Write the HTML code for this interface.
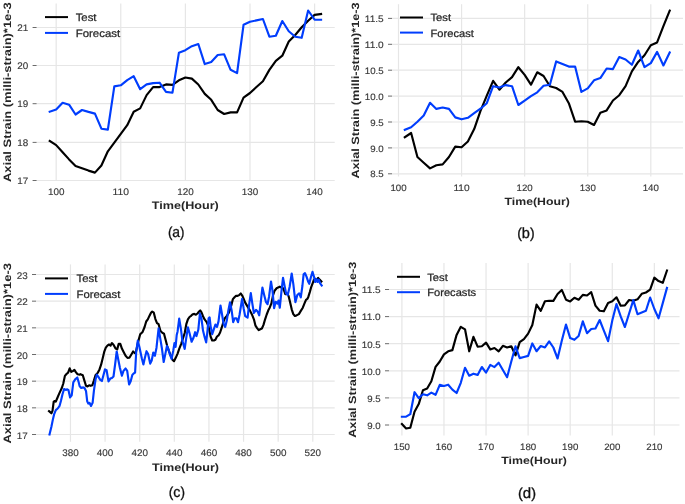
<!DOCTYPE html>
<html><head><meta charset="utf-8"><style>
html,body{margin:0;padding:0;background:#fff;}
body{width:685px;height:504px;overflow:hidden;}
svg{display:block;font-family:"Liberation Sans", sans-serif;text-rendering:geometricPrecision;will-change:transform;}
</style></head><body>
<svg width="685" height="504" viewBox="0 0 685 504">
<rect width="685" height="504" fill="#fff"/>
<line x1="36.6" y1="180.5" x2="334.7" y2="180.5" stroke="#e6e6e6" stroke-width="1.2"/>
<line x1="32.6" y1="180.5" x2="36.6" y2="180.5" stroke="#5a5a5a" stroke-width="0.9"/>
<text x="28.3" y="184.2" text-anchor="end" font-size="9.5" fill="#3a3a3a" stroke="#3a3a3a" stroke-width="0.15" textLength="10.99" lengthAdjust="spacingAndGlyphs">17</text>
<line x1="36.6" y1="142.4" x2="334.7" y2="142.4" stroke="#e6e6e6" stroke-width="1.2"/>
<line x1="32.6" y1="142.4" x2="36.6" y2="142.4" stroke="#5a5a5a" stroke-width="0.9"/>
<text x="28.3" y="146.1" text-anchor="end" font-size="9.5" fill="#3a3a3a" stroke="#3a3a3a" stroke-width="0.15" textLength="10.99" lengthAdjust="spacingAndGlyphs">18</text>
<line x1="36.6" y1="103.7" x2="334.7" y2="103.7" stroke="#e6e6e6" stroke-width="1.2"/>
<line x1="32.6" y1="103.7" x2="36.6" y2="103.7" stroke="#5a5a5a" stroke-width="0.9"/>
<text x="28.3" y="107.4" text-anchor="end" font-size="9.5" fill="#3a3a3a" stroke="#3a3a3a" stroke-width="0.15" textLength="10.99" lengthAdjust="spacingAndGlyphs">19</text>
<line x1="36.6" y1="65.5" x2="334.7" y2="65.5" stroke="#e6e6e6" stroke-width="1.2"/>
<line x1="32.6" y1="65.5" x2="36.6" y2="65.5" stroke="#5a5a5a" stroke-width="0.9"/>
<text x="28.3" y="69.2" text-anchor="end" font-size="9.5" fill="#3a3a3a" stroke="#3a3a3a" stroke-width="0.15" textLength="10.99" lengthAdjust="spacingAndGlyphs">20</text>
<line x1="36.6" y1="27.5" x2="334.7" y2="27.5" stroke="#e6e6e6" stroke-width="1.2"/>
<line x1="32.6" y1="27.5" x2="36.6" y2="27.5" stroke="#5a5a5a" stroke-width="0.9"/>
<text x="28.3" y="31.2" text-anchor="end" font-size="9.5" fill="#3a3a3a" stroke="#3a3a3a" stroke-width="0.15" textLength="10.99" lengthAdjust="spacingAndGlyphs">21</text>
<line x1="56.17" y1="3.5" x2="56.17" y2="180.4" stroke="#e6e6e6" stroke-width="1.2"/>
<text x="56.17" y="195.2" text-anchor="middle" font-size="9.5" fill="#3a3a3a" stroke="#3a3a3a" stroke-width="0.15" textLength="16.49" lengthAdjust="spacingAndGlyphs">100</text>
<line x1="120.78" y1="3.5" x2="120.78" y2="180.4" stroke="#e6e6e6" stroke-width="1.2"/>
<text x="120.78" y="195.2" text-anchor="middle" font-size="9.5" fill="#3a3a3a" stroke="#3a3a3a" stroke-width="0.15" textLength="16.49" lengthAdjust="spacingAndGlyphs">110</text>
<line x1="185.39" y1="3.5" x2="185.39" y2="180.4" stroke="#e6e6e6" stroke-width="1.2"/>
<text x="185.39" y="195.2" text-anchor="middle" font-size="9.5" fill="#3a3a3a" stroke="#3a3a3a" stroke-width="0.15" textLength="16.49" lengthAdjust="spacingAndGlyphs">120</text>
<line x1="250" y1="3.5" x2="250" y2="180.4" stroke="#e6e6e6" stroke-width="1.2"/>
<text x="250" y="195.2" text-anchor="middle" font-size="9.5" fill="#3a3a3a" stroke="#3a3a3a" stroke-width="0.15" textLength="16.49" lengthAdjust="spacingAndGlyphs">130</text>
<line x1="314.61" y1="3.5" x2="314.61" y2="180.4" stroke="#e6e6e6" stroke-width="1.2"/>
<text x="314.61" y="195.2" text-anchor="middle" font-size="9.5" fill="#3a3a3a" stroke="#3a3a3a" stroke-width="0.15" textLength="16.49" lengthAdjust="spacingAndGlyphs">140</text>
<polyline points="49.71,140.9 56.17,145.1 62.63,152.3 69.09,159.4 75.55,166 82.01,168.3 88.47,170.6 94.94,172.6 101.4,165.5 107.86,151.3 114.32,142.7 120.78,133.9 127.24,125.2 133.7,111.7 140.16,108.4 146.62,95.1 153.09,87.1 159.55,87.1 166.01,84.4 172.47,84.9 178.93,80.3 185.39,77.5 191.85,78.6 198.31,84.5 204.77,93.9 211.23,99.8 217.69,110 224.16,114 230.62,112.4 237.08,112.4 243.54,97.6 250,93 256.46,87 262.92,81.3 269.38,69.9 275.84,60.8 282.31,55.7 288.77,41.5 295.23,35 301.69,27.3 308.15,20.8 314.61,14.9 321.07,14" fill="none" stroke="#000000" stroke-width="2.15" stroke-linejoin="round" stroke-linecap="square"/>
<polyline points="49.71,111.7 56.17,109.6 62.63,102.8 69.09,104.7 75.55,114.5 82.01,110 88.47,111.9 94.94,113.6 101.4,128.7 107.86,129.6 114.32,86.4 120.78,85.3 127.24,80.1 133.7,76.2 140.16,89.2 146.62,84.4 153.09,83.1 159.55,82.7 166.01,91.9 172.47,92.7 178.93,52.7 185.39,50.2 191.85,46.2 198.31,44 204.77,64.1 211.23,62 217.69,55 224.16,54.3 230.62,69.8 237.08,73.1 243.54,24.8 250,21.8 256.46,20.4 262.92,19 269.38,36.7 275.84,35.8 282.31,21 288.77,31.3 295.23,36.7 301.69,37.8 308.15,10.5 314.61,19.7 321.07,19.7" fill="none" stroke="#003dfd" stroke-width="2.15" stroke-linejoin="round" stroke-linecap="square"/>
<line x1="45" y1="17.1" x2="68" y2="17.1" stroke="#000000" stroke-width="2"/>
<line x1="45" y1="32.9" x2="68" y2="32.9" stroke="#003dfd" stroke-width="2"/>
<text x="75.7" y="20.9" font-size="10.75" fill="#262626" stroke="#262626" stroke-width="0.25" textLength="20.8" lengthAdjust="spacingAndGlyphs">Test</text>
<text x="75.7" y="36.8" font-size="10.75" fill="#262626" stroke="#262626" stroke-width="0.25" textLength="44.5" lengthAdjust="spacingAndGlyphs">Forecast</text>
<text x="185.3" y="209.2" text-anchor="middle" font-size="10.75" font-weight="bold" fill="#262626" textLength="67" lengthAdjust="spacingAndGlyphs">Time(Hour)</text>
<text transform="translate(10.7,182) rotate(-90)" x="0" y="0" font-size="10.75" font-weight="bold" fill="#262626" textLength="179.8" lengthAdjust="spacingAndGlyphs">Axial Strain (milli-strain)*1e-3</text>
<text x="176.2" y="236.6" text-anchor="middle" font-size="14.4" fill="#111" stroke="#111" stroke-width="0.3" textLength="16.6" lengthAdjust="spacingAndGlyphs">(<tspan font-size="15">a</tspan>)</text>
<line x1="392" y1="173.8" x2="683" y2="173.8" stroke="#e6e6e6" stroke-width="1.2"/>
<line x1="388" y1="173.8" x2="392" y2="173.8" stroke="#5a5a5a" stroke-width="0.9"/>
<text x="383.7" y="177.4" text-anchor="end" font-size="9.31" fill="#3a3a3a" stroke="#3a3a3a" stroke-width="0.15" textLength="13.46" lengthAdjust="spacingAndGlyphs">8.5</text>
<line x1="392" y1="147.9" x2="683" y2="147.9" stroke="#e6e6e6" stroke-width="1.2"/>
<line x1="388" y1="147.9" x2="392" y2="147.9" stroke="#5a5a5a" stroke-width="0.9"/>
<text x="383.7" y="151.5" text-anchor="end" font-size="9.31" fill="#3a3a3a" stroke="#3a3a3a" stroke-width="0.15" textLength="13.46" lengthAdjust="spacingAndGlyphs">9.0</text>
<line x1="392" y1="122" x2="683" y2="122" stroke="#e6e6e6" stroke-width="1.2"/>
<line x1="388" y1="122" x2="392" y2="122" stroke="#5a5a5a" stroke-width="0.9"/>
<text x="383.7" y="125.6" text-anchor="end" font-size="9.31" fill="#3a3a3a" stroke="#3a3a3a" stroke-width="0.15" textLength="13.46" lengthAdjust="spacingAndGlyphs">9.5</text>
<line x1="392" y1="96.1" x2="683" y2="96.1" stroke="#e6e6e6" stroke-width="1.2"/>
<line x1="388" y1="96.1" x2="392" y2="96.1" stroke="#5a5a5a" stroke-width="0.9"/>
<text x="383.7" y="99.7" text-anchor="end" font-size="9.31" fill="#3a3a3a" stroke="#3a3a3a" stroke-width="0.15" textLength="18.85" lengthAdjust="spacingAndGlyphs">10.0</text>
<line x1="392" y1="70.2" x2="683" y2="70.2" stroke="#e6e6e6" stroke-width="1.2"/>
<line x1="388" y1="70.2" x2="392" y2="70.2" stroke="#5a5a5a" stroke-width="0.9"/>
<text x="383.7" y="73.8" text-anchor="end" font-size="9.31" fill="#3a3a3a" stroke="#3a3a3a" stroke-width="0.15" textLength="18.85" lengthAdjust="spacingAndGlyphs">10.5</text>
<line x1="392" y1="44.3" x2="683" y2="44.3" stroke="#e6e6e6" stroke-width="1.2"/>
<line x1="388" y1="44.3" x2="392" y2="44.3" stroke="#5a5a5a" stroke-width="0.9"/>
<text x="383.7" y="47.9" text-anchor="end" font-size="9.31" fill="#3a3a3a" stroke="#3a3a3a" stroke-width="0.15" textLength="18.85" lengthAdjust="spacingAndGlyphs">11.0</text>
<line x1="392" y1="18.4" x2="683" y2="18.4" stroke="#e6e6e6" stroke-width="1.2"/>
<line x1="388" y1="18.4" x2="392" y2="18.4" stroke="#5a5a5a" stroke-width="0.9"/>
<text x="383.7" y="22" text-anchor="end" font-size="9.31" fill="#3a3a3a" stroke="#3a3a3a" stroke-width="0.15" textLength="18.85" lengthAdjust="spacingAndGlyphs">11.5</text>
<line x1="398.5" y1="4.2" x2="398.5" y2="176.5" stroke="#e6e6e6" stroke-width="1.2"/>
<text x="398.5" y="190.9" text-anchor="middle" font-size="9.31" fill="#3a3a3a" stroke="#3a3a3a" stroke-width="0.15" textLength="16.16" lengthAdjust="spacingAndGlyphs">100</text>
<line x1="461.57" y1="4.2" x2="461.57" y2="176.5" stroke="#e6e6e6" stroke-width="1.2"/>
<text x="461.57" y="190.9" text-anchor="middle" font-size="9.31" fill="#3a3a3a" stroke="#3a3a3a" stroke-width="0.15" textLength="16.16" lengthAdjust="spacingAndGlyphs">110</text>
<line x1="524.65" y1="4.2" x2="524.65" y2="176.5" stroke="#e6e6e6" stroke-width="1.2"/>
<text x="524.65" y="190.9" text-anchor="middle" font-size="9.31" fill="#3a3a3a" stroke="#3a3a3a" stroke-width="0.15" textLength="16.16" lengthAdjust="spacingAndGlyphs">120</text>
<line x1="587.73" y1="4.2" x2="587.73" y2="176.5" stroke="#e6e6e6" stroke-width="1.2"/>
<text x="587.73" y="190.9" text-anchor="middle" font-size="9.31" fill="#3a3a3a" stroke="#3a3a3a" stroke-width="0.15" textLength="16.16" lengthAdjust="spacingAndGlyphs">130</text>
<line x1="650.8" y1="4.2" x2="650.8" y2="176.5" stroke="#e6e6e6" stroke-width="1.2"/>
<text x="650.8" y="190.9" text-anchor="middle" font-size="9.31" fill="#3a3a3a" stroke="#3a3a3a" stroke-width="0.15" textLength="16.16" lengthAdjust="spacingAndGlyphs">140</text>
<polyline points="404.81,137.2 411.12,133 417.42,157 423.73,162.7 430.04,168.4 436.35,165.2 442.65,164.4 448.96,157 455.27,146.6 461.57,147.3 467.88,141.5 474.19,129.1 480.5,110.8 486.81,95.6 493.11,80.8 499.42,89.7 505.73,82.5 512.03,77.1 518.34,67.2 524.65,74.9 530.96,84.7 537.26,72.3 543.57,76 549.88,86.2 556.19,88 562.5,91.9 568.8,103.2 575.11,121.7 581.42,121.3 587.73,121.7 594.03,125 600.34,112.8 606.65,110.4 612.96,100.5 619.26,95.2 625.57,86.2 631.88,71.4 638.18,61.9 644.49,55.2 650.8,45.2 657.11,42.4 663.41,26.2 669.72,10.7" fill="none" stroke="#000000" stroke-width="2.15" stroke-linejoin="round" stroke-linecap="square"/>
<polyline points="404.81,129.8 411.12,127.3 417.42,121.8 423.73,115.6 430.04,102.8 436.35,108.9 442.65,107.5 448.96,108.9 455.27,117.4 461.57,119.3 467.88,117.8 474.19,113.2 480.5,108.7 486.81,103.2 493.11,86.2 499.42,87.5 505.73,85.1 512.03,86.2 518.34,105 524.65,100.6 530.96,96.2 537.26,92.3 543.57,85.8 549.88,84.7 556.19,61.4 562.5,64 568.8,66.6 575.11,66.6 581.42,91.9 587.73,88.4 594.03,80.3 600.34,78.1 606.65,68.5 612.96,69.1 619.26,57.1 625.57,59.5 631.88,64.8 638.18,50.5 644.49,67.1 650.8,63.1 657.11,51.9 663.41,65.5 669.72,52.4" fill="none" stroke="#003dfd" stroke-width="2.15" stroke-linejoin="round" stroke-linecap="square"/>
<line x1="400" y1="17.5" x2="423" y2="17.5" stroke="#000000" stroke-width="2"/>
<line x1="400" y1="32.6" x2="423" y2="32.6" stroke="#003dfd" stroke-width="2"/>
<text x="430.5" y="21" font-size="10.54" fill="#262626" stroke="#262626" stroke-width="0.25" textLength="20.6" lengthAdjust="spacingAndGlyphs">Test</text>
<text x="430.5" y="36.5" font-size="10.54" fill="#262626" stroke="#262626" stroke-width="0.25" textLength="43.3" lengthAdjust="spacingAndGlyphs">Forecast</text>
<text x="537.2" y="205.4" text-anchor="middle" font-size="10.54" font-weight="bold" fill="#262626" textLength="65.3" lengthAdjust="spacingAndGlyphs">Time(Hour)</text>
<text transform="translate(358.5,178.6) rotate(-90)" x="0" y="0" font-size="10.54" font-weight="bold" fill="#262626" textLength="176.2" lengthAdjust="spacingAndGlyphs">Axial Strain (milli-strain)*1e-3</text>
<text x="525.9" y="237.6" text-anchor="middle" font-size="14.4" fill="#111" stroke="#111" stroke-width="0.3" textLength="17.4" lengthAdjust="spacingAndGlyphs">(<tspan font-size="15">b</tspan>)</text>
<line x1="36" y1="434.5" x2="334.7" y2="434.5" stroke="#e6e6e6" stroke-width="1.2"/>
<line x1="32" y1="434.5" x2="36" y2="434.5" stroke="#5a5a5a" stroke-width="0.9"/>
<text x="27.7" y="438.5" text-anchor="end" font-size="9.5" fill="#3a3a3a" stroke="#3a3a3a" stroke-width="0.15" textLength="10.99" lengthAdjust="spacingAndGlyphs">17</text>
<line x1="36" y1="407.83" x2="334.7" y2="407.83" stroke="#e6e6e6" stroke-width="1.2"/>
<line x1="32" y1="407.83" x2="36" y2="407.83" stroke="#5a5a5a" stroke-width="0.9"/>
<text x="27.7" y="411.83" text-anchor="end" font-size="9.5" fill="#3a3a3a" stroke="#3a3a3a" stroke-width="0.15" textLength="10.99" lengthAdjust="spacingAndGlyphs">18</text>
<line x1="36" y1="381.17" x2="334.7" y2="381.17" stroke="#e6e6e6" stroke-width="1.2"/>
<line x1="32" y1="381.17" x2="36" y2="381.17" stroke="#5a5a5a" stroke-width="0.9"/>
<text x="27.7" y="385.17" text-anchor="end" font-size="9.5" fill="#3a3a3a" stroke="#3a3a3a" stroke-width="0.15" textLength="10.99" lengthAdjust="spacingAndGlyphs">19</text>
<line x1="36" y1="354.5" x2="334.7" y2="354.5" stroke="#e6e6e6" stroke-width="1.2"/>
<line x1="32" y1="354.5" x2="36" y2="354.5" stroke="#5a5a5a" stroke-width="0.9"/>
<text x="27.7" y="358.5" text-anchor="end" font-size="9.5" fill="#3a3a3a" stroke="#3a3a3a" stroke-width="0.15" textLength="10.99" lengthAdjust="spacingAndGlyphs">20</text>
<line x1="36" y1="327.83" x2="334.7" y2="327.83" stroke="#e6e6e6" stroke-width="1.2"/>
<line x1="32" y1="327.83" x2="36" y2="327.83" stroke="#5a5a5a" stroke-width="0.9"/>
<text x="27.7" y="331.83" text-anchor="end" font-size="9.5" fill="#3a3a3a" stroke="#3a3a3a" stroke-width="0.15" textLength="10.99" lengthAdjust="spacingAndGlyphs">21</text>
<line x1="36" y1="301.16" x2="334.7" y2="301.16" stroke="#e6e6e6" stroke-width="1.2"/>
<line x1="32" y1="301.16" x2="36" y2="301.16" stroke="#5a5a5a" stroke-width="0.9"/>
<text x="27.7" y="305.16" text-anchor="end" font-size="9.5" fill="#3a3a3a" stroke="#3a3a3a" stroke-width="0.15" textLength="10.99" lengthAdjust="spacingAndGlyphs">22</text>
<line x1="36" y1="274.5" x2="334.7" y2="274.5" stroke="#e6e6e6" stroke-width="1.2"/>
<line x1="32" y1="274.5" x2="36" y2="274.5" stroke="#5a5a5a" stroke-width="0.9"/>
<text x="27.7" y="278.5" text-anchor="end" font-size="9.5" fill="#3a3a3a" stroke="#3a3a3a" stroke-width="0.15" textLength="10.99" lengthAdjust="spacingAndGlyphs">23</text>
<line x1="70.47" y1="264.4" x2="70.47" y2="441.8" stroke="#e6e6e6" stroke-width="1.2"/>
<text x="70.47" y="456.3" text-anchor="middle" font-size="9.5" fill="#3a3a3a" stroke="#3a3a3a" stroke-width="0.15" textLength="16.49" lengthAdjust="spacingAndGlyphs">380</text>
<line x1="105.09" y1="264.4" x2="105.09" y2="441.8" stroke="#e6e6e6" stroke-width="1.2"/>
<text x="105.09" y="456.3" text-anchor="middle" font-size="9.5" fill="#3a3a3a" stroke="#3a3a3a" stroke-width="0.15" textLength="16.49" lengthAdjust="spacingAndGlyphs">400</text>
<line x1="139.71" y1="264.4" x2="139.71" y2="441.8" stroke="#e6e6e6" stroke-width="1.2"/>
<text x="139.71" y="456.3" text-anchor="middle" font-size="9.5" fill="#3a3a3a" stroke="#3a3a3a" stroke-width="0.15" textLength="16.49" lengthAdjust="spacingAndGlyphs">420</text>
<line x1="174.32" y1="264.4" x2="174.32" y2="441.8" stroke="#e6e6e6" stroke-width="1.2"/>
<text x="174.32" y="456.3" text-anchor="middle" font-size="9.5" fill="#3a3a3a" stroke="#3a3a3a" stroke-width="0.15" textLength="16.49" lengthAdjust="spacingAndGlyphs">440</text>
<line x1="208.94" y1="264.4" x2="208.94" y2="441.8" stroke="#e6e6e6" stroke-width="1.2"/>
<text x="208.94" y="456.3" text-anchor="middle" font-size="9.5" fill="#3a3a3a" stroke="#3a3a3a" stroke-width="0.15" textLength="16.49" lengthAdjust="spacingAndGlyphs">460</text>
<line x1="243.56" y1="264.4" x2="243.56" y2="441.8" stroke="#e6e6e6" stroke-width="1.2"/>
<text x="243.56" y="456.3" text-anchor="middle" font-size="9.5" fill="#3a3a3a" stroke="#3a3a3a" stroke-width="0.15" textLength="16.49" lengthAdjust="spacingAndGlyphs">480</text>
<line x1="278.18" y1="264.4" x2="278.18" y2="441.8" stroke="#e6e6e6" stroke-width="1.2"/>
<text x="278.18" y="456.3" text-anchor="middle" font-size="9.5" fill="#3a3a3a" stroke="#3a3a3a" stroke-width="0.15" textLength="16.49" lengthAdjust="spacingAndGlyphs">500</text>
<line x1="312.8" y1="264.4" x2="312.8" y2="441.8" stroke="#e6e6e6" stroke-width="1.2"/>
<text x="312.8" y="456.3" text-anchor="middle" font-size="9.5" fill="#3a3a3a" stroke="#3a3a3a" stroke-width="0.15" textLength="16.49" lengthAdjust="spacingAndGlyphs">520</text>
<polyline points="49,411.2 50.2,412.2 51.4,413.3 52.5,410.9 53.7,401.7 54.9,401 55.8,401.7 56.9,399 59.3,393.4 61.7,388.3 63.3,383.5 64.9,375.9 66.5,374 68.1,372.7 69.7,368.3 71.2,371.9 72.8,371.1 74.4,369.9 76,372.4 77.6,374.3 79.7,374.6 80.4,374.2 82.8,375.3 84.4,380.6 86,385.8 87.5,386.5 89.1,385.3 90.7,385.8 92.3,385.3 93.9,380.6 95.5,375.3 97.9,372.6 99.5,369.4 101.1,364.7 102.7,358.3 104.2,351.9 105.8,347.6 107.4,345.6 109,344.5 110.6,345.6 111.9,343.1 113.5,344.7 115.6,348.6 117.2,349.4 118.7,343.9 120.3,343.9 121.9,348.6 123.5,351.8 125.6,355.8 127.5,357.9 129.4,357.7 131.5,354.2 133.1,351.5 134.7,353.1 135.8,352.6 137.8,343.1 140.2,334.3 142.6,331.9 144.6,327 146.2,321.5 147.8,319.4 149.4,315.9 151,312.7 152.2,311.5 153.8,312.7 155.4,319.1 157,323.1 158.6,324.2 160.5,331 162.1,332.6 164,333.7 165.6,339.8 167.2,346.1 168.8,350.9 170.8,355.7 172.4,359.7 174,361.2 175.6,358.1 177.6,353.6 179.2,348.9 181.1,344.1 183.2,337.7 184.7,333 186.3,324.2 187.9,319.4 189.5,317 191.1,315.8 192.7,314.2 194.3,313.9 195.9,314.7 197.5,313.5 199.1,311.5 200.2,310.4 201.5,312.3 203,316.2 204.6,319.4 206.5,321.8 208.6,326.6 210.6,336.5 212.2,340.5 213.8,340.5 215.4,339.7 217,336.5 218.5,335.4 220.1,332.5 221.7,327.7 223.3,322.2 224.9,318.2 226.8,315.8 228.9,312.6 231.3,305.5 232.9,299.1 234.5,297.2 236,295.9 237.6,295.9 239.2,295.1 240.8,293.5 242.4,295.9 243.6,298.6 245.2,302.6 247.6,306.6 250,310.6 252.3,315.3 253.9,319.3 255.5,325.7 257.1,328.1 258.7,330.1 260.3,329.2 261.9,328.5 263.5,324.9 265.1,319.3 266.7,314.5 268.2,310.6 269.8,307.4 271.4,303.4 273,295.5 274.6,290.7 276.6,288.3 278.2,287.4 279.8,286.7 281.4,287.4 283,288.3 284.2,291 285.3,294.2 286.9,293.4 288.5,295.8 290.1,302.2 291.7,309.3 293.3,314.1 294.9,316 296.5,315.4 298.9,314.1 300.8,310.9 302.8,307.7 304.4,303.7 306,299.8 307.3,298.9 308.3,296.9 309.8,292.1 311.3,286.8 312.9,282.6 314,279.6 315.2,278.8 316.7,279.6 318.1,277.9 319.6,279.6 321.4,281.4" fill="none" stroke="#000000" stroke-width="2.15" stroke-linejoin="round" stroke-linecap="square"/>
<polyline points="49.5,434.5 51.4,426.8 53,418.9 54.2,414.1 55.8,410.1 57.7,408.5 59.6,405.8 60.9,401 62.5,394.2 64.1,389 65.7,389.9 67.3,389.4 68.5,390.2 70.1,397.4 71.7,395.3 73.3,382.3 75.2,379.4 77.3,377.5 78.7,382.3 79.6,386.1 81.2,388 82.8,387.4 84.4,387.7 86,390.9 87.2,401.2 88.3,403.6 89.5,402.8 91,406 92.6,402.8 93.9,390.9 95.5,379.8 96.8,374.7 98.4,376.9 100.3,379.8 101.9,381 103.5,375 105,369.4 106.6,370.2 108.5,381.4 110.6,378.2 111.9,378.1 113.5,376.5 115.1,364.5 116.7,351.5 118.3,359.8 119.9,367.7 121.9,375.7 123.5,370.9 125.6,368.5 127.2,370.9 129.1,384.4 130.7,381.2 132.3,374.9 133.9,373.3 135.1,372.5 136.2,351.8 137.8,340.7 139.4,347 141.8,358.2 143.4,364.5 144.6,358.9 146.5,351.2 148.1,354.1 150.2,363.6 151.7,360.5 153.3,352.5 154.9,355.7 156.5,347.7 158.6,328.3 160.2,338.2 161.8,347.7 163.7,362 165.3,354.1 166.9,346.1 168.5,349.3 170,354.9 171.6,358.9 173.2,350.9 174.5,343 175.6,346.9 176.7,335 177.6,331.4 179.2,318.6 180.8,328.2 182.4,340.9 184.7,348.9 186.3,337.7 187.9,327.4 189.5,333 191.6,341.7 193.5,337.7 195.1,332.2 196.4,336.1 198.3,329.8 199.9,313.5 201.5,318.6 203,330.6 204.6,336.9 206.2,342.5 207.5,330.6 208.6,318.3 209.6,317.4 210.6,326.1 212.2,334.1 213.8,329.3 215.4,324.5 217,326.9 218.5,321.4 220.5,305.5 222,314.2 223.6,323.7 225.2,326.9 226.8,320.6 228.4,310.2 230,302.3 231.6,310.2 233.2,322.2 234.8,318.2 236.4,318.2 238,322.2 239.5,315 240.8,307 242.1,298.8 243.6,308.2 245.2,316.1 247.6,317.7 249.2,304.2 250.8,293.1 252.3,303.4 253.9,313 256,309.8 257.6,311.4 259.2,315.3 260.8,301.8 262.4,287.5 264.3,295.5 265.9,301.8 267.5,304.2 269,297 271,281.5 272.5,290.7 274.1,308.2 275.7,301.8 276.3,302.2 277.4,303.7 278.5,300.6 279.8,307.7 281.4,291.8 283,277.8 284.5,285.5 286.1,293.4 287.7,295 289.6,287 291.7,273.5 293.3,283.9 295.4,302.2 297.3,295 299.2,293.4 300.8,297.4 302.4,286 303.6,274.3 305,273.1 306.5,276.7 308.1,281.4 309.3,283.8 311,276.7 312.5,271.9 314,276.7 315.2,282 316.4,279 317.6,282 318.8,279.6 320,283.2 321.7,285.6" fill="none" stroke="#003dfd" stroke-width="2.15" stroke-linejoin="round" stroke-linecap="square"/>
<line x1="45" y1="278.4" x2="68" y2="278.4" stroke="#000000" stroke-width="2"/>
<line x1="45" y1="293.9" x2="68" y2="293.9" stroke="#003dfd" stroke-width="2"/>
<text x="76.5" y="282.2" font-size="10.75" fill="#262626" stroke="#262626" stroke-width="0.25" textLength="20.8" lengthAdjust="spacingAndGlyphs">Test</text>
<text x="76.5" y="297.7" font-size="10.75" fill="#262626" stroke="#262626" stroke-width="0.25" textLength="43.9" lengthAdjust="spacingAndGlyphs">Forecast</text>
<text x="185.5" y="470.6" text-anchor="middle" font-size="10.75" font-weight="bold" fill="#262626" textLength="67.2" lengthAdjust="spacingAndGlyphs">Time(Hour)</text>
<text transform="translate(10.8,443.6) rotate(-90)" x="0" y="0" font-size="10.75" font-weight="bold" fill="#262626" textLength="180.6" lengthAdjust="spacingAndGlyphs">Axial Strain (milli-strain)*1e-3</text>
<text x="176.85" y="496.8" text-anchor="middle" font-size="14.4" fill="#111" stroke="#111" stroke-width="0.3" textLength="16.1" lengthAdjust="spacingAndGlyphs">(<tspan font-size="15">c</tspan>)</text>
<line x1="389" y1="425" x2="679.5" y2="425" stroke="#e6e6e6" stroke-width="1.2"/>
<line x1="385" y1="425" x2="389" y2="425" stroke="#5a5a5a" stroke-width="0.9"/>
<text x="380.7" y="428.8" text-anchor="end" font-size="9.31" fill="#3a3a3a" stroke="#3a3a3a" stroke-width="0.15" textLength="13.46" lengthAdjust="spacingAndGlyphs">9.0</text>
<line x1="389" y1="397.9" x2="679.5" y2="397.9" stroke="#e6e6e6" stroke-width="1.2"/>
<line x1="385" y1="397.9" x2="389" y2="397.9" stroke="#5a5a5a" stroke-width="0.9"/>
<text x="380.7" y="401.7" text-anchor="end" font-size="9.31" fill="#3a3a3a" stroke="#3a3a3a" stroke-width="0.15" textLength="13.46" lengthAdjust="spacingAndGlyphs">9.5</text>
<line x1="389" y1="370.8" x2="679.5" y2="370.8" stroke="#e6e6e6" stroke-width="1.2"/>
<line x1="385" y1="370.8" x2="389" y2="370.8" stroke="#5a5a5a" stroke-width="0.9"/>
<text x="380.7" y="374.6" text-anchor="end" font-size="9.31" fill="#3a3a3a" stroke="#3a3a3a" stroke-width="0.15" textLength="18.85" lengthAdjust="spacingAndGlyphs">10.0</text>
<line x1="389" y1="343.7" x2="679.5" y2="343.7" stroke="#e6e6e6" stroke-width="1.2"/>
<line x1="385" y1="343.7" x2="389" y2="343.7" stroke="#5a5a5a" stroke-width="0.9"/>
<text x="380.7" y="347.5" text-anchor="end" font-size="9.31" fill="#3a3a3a" stroke="#3a3a3a" stroke-width="0.15" textLength="18.85" lengthAdjust="spacingAndGlyphs">10.5</text>
<line x1="389" y1="316.6" x2="679.5" y2="316.6" stroke="#e6e6e6" stroke-width="1.2"/>
<line x1="385" y1="316.6" x2="389" y2="316.6" stroke="#5a5a5a" stroke-width="0.9"/>
<text x="380.7" y="320.4" text-anchor="end" font-size="9.31" fill="#3a3a3a" stroke="#3a3a3a" stroke-width="0.15" textLength="18.85" lengthAdjust="spacingAndGlyphs">11.0</text>
<line x1="389" y1="289.5" x2="679.5" y2="289.5" stroke="#e6e6e6" stroke-width="1.2"/>
<line x1="385" y1="289.5" x2="389" y2="289.5" stroke="#5a5a5a" stroke-width="0.9"/>
<text x="380.7" y="293.3" text-anchor="end" font-size="9.31" fill="#3a3a3a" stroke="#3a3a3a" stroke-width="0.15" textLength="18.85" lengthAdjust="spacingAndGlyphs">11.5</text>
<line x1="401.9" y1="263.1" x2="401.9" y2="435.5" stroke="#e6e6e6" stroke-width="1.2"/>
<text x="401.9" y="450.1" text-anchor="middle" font-size="9.31" fill="#3a3a3a" stroke="#3a3a3a" stroke-width="0.15" textLength="16.16" lengthAdjust="spacingAndGlyphs">150</text>
<line x1="443.97" y1="263.1" x2="443.97" y2="435.5" stroke="#e6e6e6" stroke-width="1.2"/>
<text x="443.97" y="450.1" text-anchor="middle" font-size="9.31" fill="#3a3a3a" stroke="#3a3a3a" stroke-width="0.15" textLength="16.16" lengthAdjust="spacingAndGlyphs">160</text>
<line x1="486.05" y1="263.1" x2="486.05" y2="435.5" stroke="#e6e6e6" stroke-width="1.2"/>
<text x="486.05" y="450.1" text-anchor="middle" font-size="9.31" fill="#3a3a3a" stroke="#3a3a3a" stroke-width="0.15" textLength="16.16" lengthAdjust="spacingAndGlyphs">170</text>
<line x1="528.12" y1="263.1" x2="528.12" y2="435.5" stroke="#e6e6e6" stroke-width="1.2"/>
<text x="528.12" y="450.1" text-anchor="middle" font-size="9.31" fill="#3a3a3a" stroke="#3a3a3a" stroke-width="0.15" textLength="16.16" lengthAdjust="spacingAndGlyphs">180</text>
<line x1="570.2" y1="263.1" x2="570.2" y2="435.5" stroke="#e6e6e6" stroke-width="1.2"/>
<text x="570.2" y="450.1" text-anchor="middle" font-size="9.31" fill="#3a3a3a" stroke="#3a3a3a" stroke-width="0.15" textLength="16.16" lengthAdjust="spacingAndGlyphs">190</text>
<line x1="612.27" y1="263.1" x2="612.27" y2="435.5" stroke="#e6e6e6" stroke-width="1.2"/>
<text x="612.27" y="450.1" text-anchor="middle" font-size="9.31" fill="#3a3a3a" stroke="#3a3a3a" stroke-width="0.15" textLength="16.16" lengthAdjust="spacingAndGlyphs">200</text>
<line x1="654.35" y1="263.1" x2="654.35" y2="435.5" stroke="#e6e6e6" stroke-width="1.2"/>
<text x="654.35" y="450.1" text-anchor="middle" font-size="9.31" fill="#3a3a3a" stroke="#3a3a3a" stroke-width="0.15" textLength="16.16" lengthAdjust="spacingAndGlyphs">210</text>
<polyline points="401.9,424 406.11,428.5 410.31,427.7 414.52,411.7 418.73,404.1 422.94,390.2 427.14,388.5 431.35,381.3 435.56,366.9 439.77,361.5 443.97,354.4 448.18,351.3 452.39,350.1 456.6,334.9 460.8,326.8 465.01,329.3 469.22,351.3 473.43,336.9 477.63,346.7 481.84,346.2 486.05,342.6 490.26,349.4 494.46,348 498.67,351.4 502.88,345.8 507.09,347.5 511.29,346.3 515.5,355.3 519.71,342.1 523.92,339.1 528.12,333.6 532.33,325 536.54,304.6 540.75,310.9 544.95,301.3 549.16,300.7 553.37,300.9 557.58,294 561.78,289.9 565.99,299.7 570.2,301.4 574.41,297.8 578.62,299.7 582.82,294.9 587.03,295.5 591.24,292.2 595.44,305.6 599.65,310.7 603.86,311.3 608.07,302.9 612.27,301.2 616.48,297.3 620.69,305.7 624.9,305.4 629.11,300 633.31,300.8 637.52,299.3 641.73,293.8 645.93,292.5 650.14,289.6 654.35,277.7 658.56,281.1 662.76,282.8 666.97,270.5" fill="none" stroke="#000000" stroke-width="2.15" stroke-linejoin="round" stroke-linecap="square"/>
<polyline points="401.9,416.7 406.11,416.7 410.31,414.2 414.52,392.2 418.73,398.1 422.94,394.3 427.14,395.3 431.35,392.6 435.56,394.8 439.77,384.8 443.97,386 448.18,384.7 452.39,389.6 456.6,393 460.8,382.8 465.01,367.8 469.22,375.7 473.43,373.7 477.63,374.9 481.84,367 486.05,372.6 490.26,364.9 494.46,367.1 498.67,362.7 502.88,370 507.09,377.2 511.29,361.5 515.5,346.3 519.71,358.1 523.92,357 528.12,355.9 532.33,343.4 536.54,351.2 540.75,346 544.95,347.4 549.16,341.3 553.37,347.5 557.58,358.5 561.78,340.8 565.99,324.6 570.2,338.1 574.41,339.8 578.62,336 582.82,321.4 587.03,333.2 591.24,329 595.44,328.5 599.65,320 603.86,330.7 608.07,341.2 612.27,320.6 616.48,304.1 620.69,316.4 624.9,327 629.11,313.5 633.31,300.1 637.52,314.2 641.73,312.5 645.93,310.8 650.14,297.5 654.35,309 658.56,318.3 662.76,303.1 666.97,287.9" fill="none" stroke="#003dfd" stroke-width="2.15" stroke-linejoin="round" stroke-linecap="square"/>
<line x1="397" y1="276.8" x2="420" y2="276.8" stroke="#000000" stroke-width="2"/>
<line x1="397" y1="292.2" x2="420" y2="292.2" stroke="#003dfd" stroke-width="2"/>
<text x="427.2" y="280.5" font-size="10.54" fill="#262626" stroke="#262626" stroke-width="0.25" textLength="20.6" lengthAdjust="spacingAndGlyphs">Test</text>
<text x="427.2" y="295.9" font-size="10.54" fill="#262626" stroke="#262626" stroke-width="0.25" textLength="48.9" lengthAdjust="spacingAndGlyphs">Forecasts</text>
<text x="534.1" y="464.3" text-anchor="middle" font-size="10.54" font-weight="bold" fill="#262626" textLength="65.6" lengthAdjust="spacingAndGlyphs">Time(Hour)</text>
<text transform="translate(355.5,437.8) rotate(-90)" x="0" y="0" font-size="10.54" font-weight="bold" fill="#262626" textLength="176.2" lengthAdjust="spacingAndGlyphs">Axial Strain (milli-strain)*1e-3</text>
<text x="527" y="497.6" text-anchor="middle" font-size="14.4" fill="#111" stroke="#111" stroke-width="0.3" textLength="18" lengthAdjust="spacingAndGlyphs">(<tspan font-size="15">d</tspan>)</text>
</svg>
</body></html>
